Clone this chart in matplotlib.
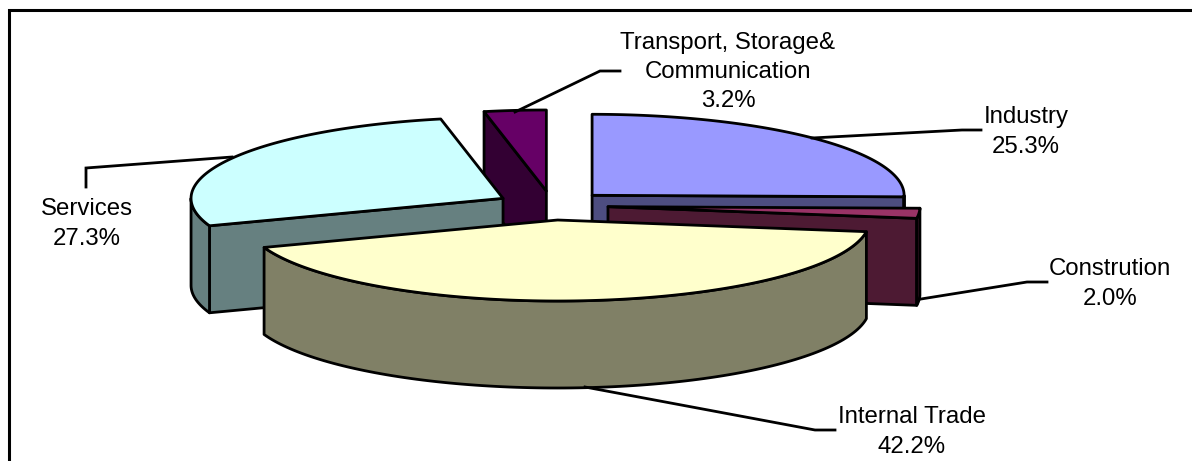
import numpy as np
import matplotlib
matplotlib.use("Agg")
import matplotlib.pyplot as plt
from matplotlib.patches import Polygon

plt.rcParams["font.family"] = ["Liberation Sans", "DejaVu Sans"]

# chart data, clockwise from 12 o'clock as in the original
names = ["Industry", "Constrution", "Internal Trade", "Services", "Transport, Storage&\nCommunication"]
shares = [25.3, 2.0, 42.2, 27.3, 3.2]

# styles
top_colors = ["#9999FF", "#993366", "#FFFFCC", "#CCFFFF", "#660066"]
side_colors = ["#4D4D80", "#4D1A33", "#808066", "#668080", "#330033"]
draw_order = [4, 3, 0, 1, 2]  # back to front

# pie geometry in pixels
cx, cy = 552, 205.5
rx, ry = 312, 81
depth = 87
explode = 0.18
lw = 2

# leader lines and label anchors, same order as names
leaders = [
    [(812, 138), (962, 130), (981, 130)],
    [(921, 299), (1027, 282), (1047, 282)],
    [(585, 387), (815, 430), (835, 430)],
    [(232, 157), (86, 168), (86, 187)],
    [(515, 112), (600, 71), (620, 71)],
]
label_pos = [(1026, 132), (1110, 284), (912, 432), (87, 224), (728, 72)]


def rim(ax_, ay_, t):
    # point(s) on the ellipse, t in radians clockwise from the top
    return np.column_stack([ax_ + rx * np.sin(t), ay_ - ry * np.cos(t)])


fig = plt.figure(figsize=(11.92, 4.61), dpi=100)
ax = fig.add_axes([0, 0, 1, 1])
ax.set_xlim(0, 1192)
ax.set_ylim(461, 0)
ax.axis("off")

# chart frame, right and bottom sides are cut off in the original
ax.plot([9, 9, 1192], [461, 10, 10], color="black", lw=2.2, solid_joinstyle="miter")

edges = np.cumsum([0] + shares) / sum(shares) * 2 * np.pi

for i in draw_order:
    t1, t2 = edges[i], edges[i + 1]
    mid = (t1 + t2) / 2
    px, py = rim(cx, cy, mid)[0]
    apex = np.array([cx + explode * (px - cx), cy + explode * (py - cy)])
    down = np.array([0, depth])
    style = dict(edgecolor="black", linewidth=lw, joinstyle="round")

    # cut faces, only those turned towards the viewer
    faces = []
    if np.sin(t1) < -1e-6:
        faces.append(t1)
    if np.sin(t2) > 1e-6:
        faces.append(t2)
    for t in faces:
        p = rim(apex[0], apex[1], t)[0]
        ax.add_patch(Polygon([apex, p, p + down, apex + down], facecolor=side_colors[i], **style))

    # outer wall, only the front half shows
    w1, w2 = max(t1, np.pi / 2), min(t2, 3 * np.pi / 2)
    if w2 > w1:
        arc = rim(apex[0], apex[1], np.linspace(w1, w2, 120))
        ax.add_patch(Polygon(np.vstack([arc, arc[::-1] + down]), facecolor=side_colors[i], **style))

    # top
    arc = rim(apex[0], apex[1], np.linspace(t1, t2, 200))
    ax.add_patch(Polygon(np.vstack([apex, arc]), facecolor=top_colors[i], **style))

for i in range(len(names)):
    xs, ys = zip(*leaders[i])
    ax.plot(xs, ys, color="black", lw=lw, solid_joinstyle="miter")
    ax.text(label_pos[i][0], label_pos[i][1], f"{names[i]}\n{shares[i]:.1f}%", fontsize=17.3,
            ha="center", va="center", linespacing=1.43, color="black", zorder=5)

fig.savefig("out.png", dpi=100)
